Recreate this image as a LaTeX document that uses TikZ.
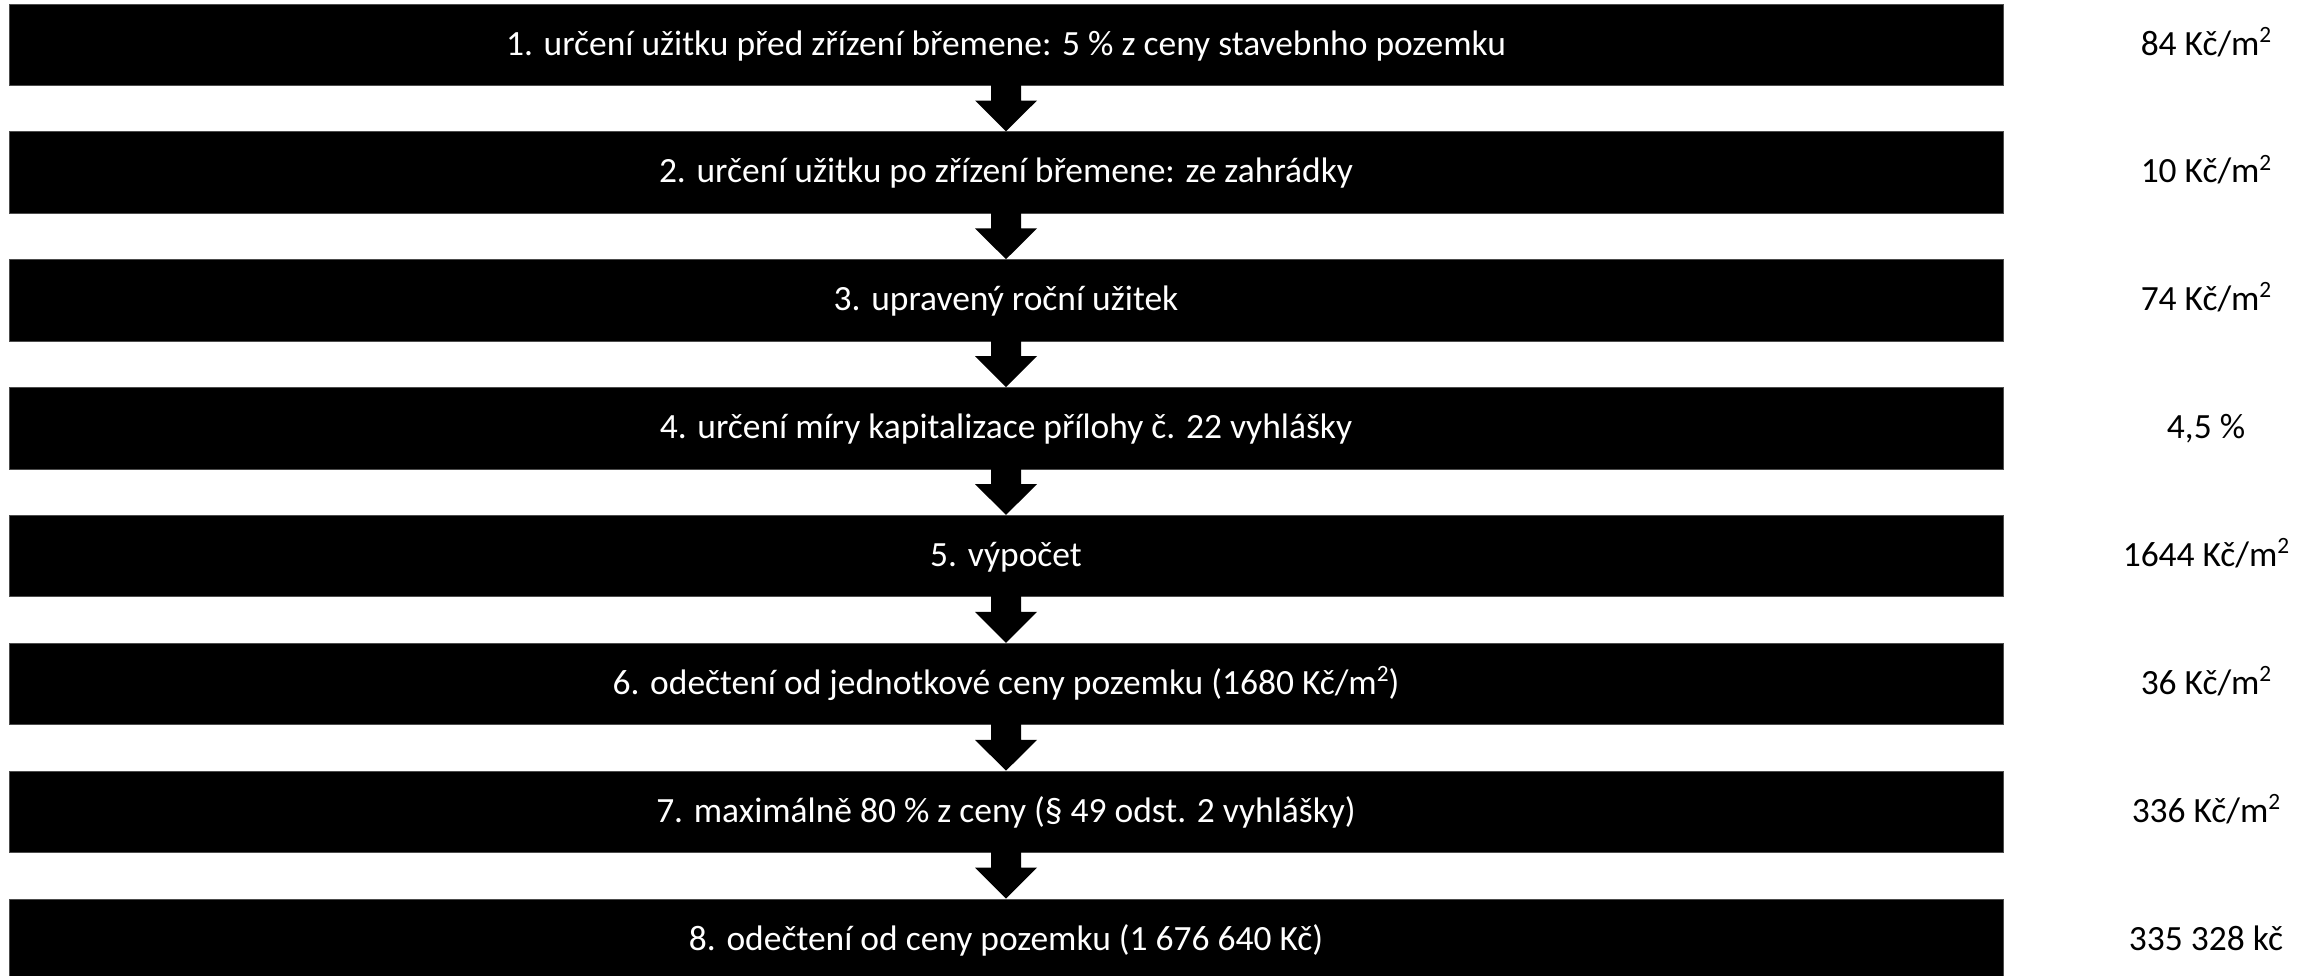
\documentclass[tikz,border=0pt]{standalone}
\usepackage{fontspec}
\setmainfont{Carlito}
\usetikzlibrary{calc}
\newcommand\sqm{m\raisebox{0.36em}{\fontsize{17.5}{18}\selectfont 2}}
\begin{document}
\begin{tikzpicture}[x=0.75pt,y=-0.75pt,
  stepbox/.style={fill=black, draw=black!70, line width=0.4pt, minimum width=1495.5pt, minimum height=61.1pt, inner sep=0pt, text=white, font=\fontsize{26.6}{30}\selectfont, text height=18.8pt, text depth=3pt},
  valtext/.style={text=black, inner sep=0pt, font=\fontsize{26.6}{30}\selectfont, text height=18.8pt, text depth=3pt}]
\newcommand\blockarrow[2]{\fill[black] ($(#1.south)+(-15,-1)$) -- ($(#1.south)+(15,-1)$) -- ($(#1.south)+(15,15)$) -- ($(#1.south)+(31,15)$) -- (#2.north) -- ($(#1.south)+(-31,15)$) -- ($(#1.south)+(-15,15)$) -- cycle;}
\useasboundingbox (0,0) rectangle (2315,975);
\begin{scope}
\clip (0,0) rectangle (2315,975);
\node[stepbox] (b1) at (1006,44.5) {1. určení užitku před zřízení břemene: 5 \% z ceny stavebnho pozemku};
\node[stepbox] (b2) at (1006,172.4) {2. určení užitku po zřízení břemene: ze zahrádky};
\node[stepbox] (b3) at (1006,300.2) {3. upravený roční užitek};
\node[stepbox] (b4) at (1006,428.1) {4. určení míry kapitalizace přílohy č. 22 vyhlášky};
\node[stepbox] (b5) at (1006,555.9) {5. výpočet};
\node[stepbox] (b6) at (1006,683.8) {6. odečtení od jednotkové ceny pozemku (1680 Kč/\sqm)};
\node[stepbox] (b7) at (1006,811.7) {7. maximálně 80 \% z ceny (§ 49 odst. 2 vyhlášky)};
\node[stepbox] (b8) at (1006,939.5) {8. odečtení od ceny pozemku (1 676 640 Kč)};
\blockarrow{b1}{b2}
\blockarrow{b2}{b3}
\blockarrow{b3}{b4}
\blockarrow{b4}{b5}
\blockarrow{b5}{b6}
\blockarrow{b6}{b7}
\blockarrow{b7}{b8}
\node[valtext] (v1) at (2206,44.5) {84 Kč/\sqm};
\node[valtext] (v2) at (2206,172.4) {10 Kč/\sqm};
\node[valtext] (v3) at (2206,300.2) {74 Kč/\sqm};
\node[valtext] (v4) at (2206,428.1) {4,5 \%};
\node[valtext] (v5) at (2206,555.9) {1644 Kč/\sqm};
\node[valtext] (v6) at (2206,683.8) {36 Kč/\sqm};
\node[valtext] (v7) at (2206,811.7) {336 Kč/\sqm};
\node[valtext] (v8) at (2206,939.5) {335 328 kč};
\end{scope}
\end{tikzpicture}
\end{document}
